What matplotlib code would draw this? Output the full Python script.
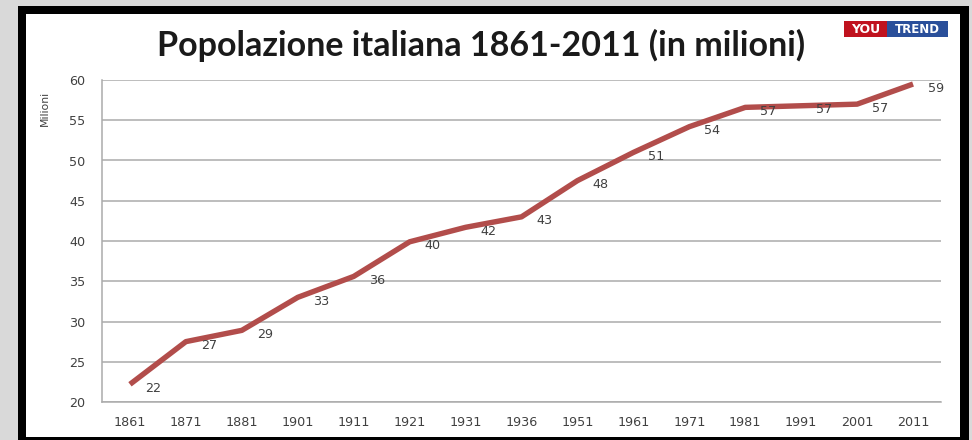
import matplotlib
matplotlib.use("Agg")
import matplotlib.pyplot as plt
import numpy as np
from matplotlib.patches import Rectangle

years = ["1861", "1871", "1881", "1901", "1911", "1921", "1931", "1936",
         "1951", "1961", "1971", "1981", "1991", "2001", "2011"]
population = [22.2, 27.5, 28.9, 33.0, 35.6, 39.9, 41.7, 43.0,
              47.5, 51.0, 54.2, 56.6, 56.8, 57.0, 59.5]
point_labels = ["22", "27", "29", "33", "36", "40", "42", "43",
                "48", "51", "54", "57", "57", "57", "59"]
yticks = [20, 25, 30, 35, 40, 45, 50, 55, 60]

W, H = 972, 440
fig = plt.figure(figsize=(W / 100, H / 100), dpi=100)
fig.patch.set_facecolor("#d9d9d9")

# black frame and white panel
fig.patches.append(Rectangle((18 / W, 0), (969 - 18) / W, 1 - 6 / H,
                             transform=fig.transFigure, facecolor="black",
                             edgecolor="none", zorder=-2))
fig.patches.append(Rectangle((26 / W, 1 - 437 / H), (960 - 26) / W, (437 - 14) / H,
                             transform=fig.transFigure, facecolor="white",
                             edgecolor="none", zorder=-1))

ax = fig.add_axes([102 / W, 1 - 402 / H, (941 - 102) / W, (402 - 80) / H])
ax.set_facecolor("white")
x = np.arange(len(years))
ax.plot(x, population, color="#b24d4b", linewidth=3.9, solid_capstyle="butt",
        solid_joinstyle="round", zorder=3)
for xi, yi, lab in zip(x, population, point_labels):
    ax.annotate(lab, (xi, yi), xytext=(15, -4), textcoords="offset pixels",
                ha="left", va="center", fontsize=9.2, color="#404040",
                family="DejaVu Sans", zorder=4)

ax.set_xlim(-0.5, len(years) - 0.5)
ax.set_ylim(20, 60)
ax.set_yticks(yticks)
ax.set_yticklabels([str(v) for v in yticks])
ax.set_xticks(x)
ax.set_xticklabels(years)
ax.tick_params(axis="both", length=0, labelsize=9.2, labelcolor="#404040")
ax.tick_params(axis="y", pad=12)
ax.tick_params(axis="x", pad=10)
ax.grid(axis="y", color="#ababab", linewidth=1.1)
ax.set_axisbelow(True)
for s in ["top", "right"]:
    ax.spines[s].set_visible(False)
for s in ["left", "bottom"]:
    ax.spines[s].set_color("#ababab")
    ax.spines[s].set_linewidth(1.1)

fig.text(45 / W, 1 - 108 / H, "Milioni", rotation=90, ha="center", va="center",
         fontsize=7.8, color="#404040", family="DejaVu Sans")

fig.text(481 / W, 1 - 45 / H, "Popolazione italiana 1861-2011 (in milioni)",
         ha="center", va="center", fontsize=24.5, fontweight="bold",
         color="#1a1a1a", family="Lato")

# logo
fig.patches.append(Rectangle((844 / W, 1 - 37 / H), 43 / W, 16 / H,
                             transform=fig.transFigure, facecolor="#c0121e",
                             edgecolor="none"))
fig.patches.append(Rectangle((887 / W, 1 - 37 / H), 61 / W, 16 / H,
                             transform=fig.transFigure, facecolor="#2a4f9a",
                             edgecolor="none"))
fig.text(865.5 / W, 1 - 29.5 / H, "YOU", ha="center", va="center", fontsize=9,
         fontweight="bold", color="white", family="DejaVu Sans")
fig.text(917.5 / W, 1 - 29.5 / H, "TREND", ha="center", va="center", fontsize=8.5,
         fontweight="bold", color="white", family="DejaVu Sans")

fig.savefig("out.png", dpi=100, facecolor=fig.get_facecolor())
